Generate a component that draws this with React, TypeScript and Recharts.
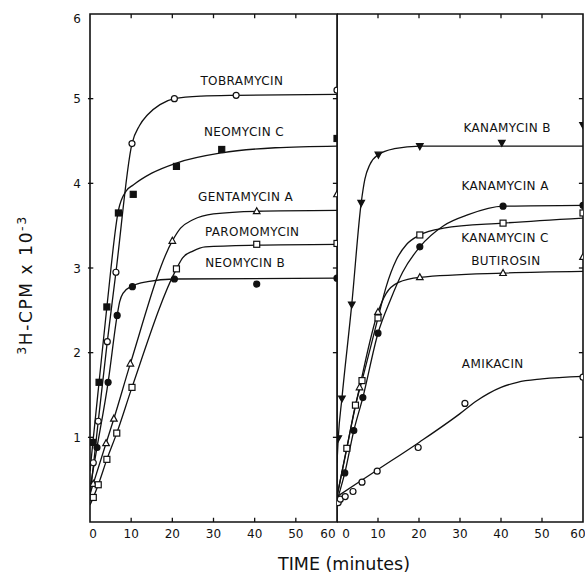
import React from 'react';
import { ComposedChart, Line, XAxis, YAxis, ReferenceDot, ReferenceArea, ReferenceLine } from 'recharts';

type Pt = [number, number];

// ---------- axis ticks ----------
const xTicks = [0, 10, 20, 30, 40, 50, 60];
const yTicks = [0, 1, 2, 3, 4, 5, 6];
const xInnerTicks = [10, 20, 30, 40, 50];
const yInnerTicks = [1, 2, 3, 4, 5];

// ---------- left panel (time in minutes, 3H-CPM x 10^-3) ----------
const tobramycinPts: Pt[] = [[0.8, 0.7], [2, 1.19], [4.2, 2.13], [6.3, 2.95], [10.2, 4.47], [20.5, 5.0], [35.5, 5.04], [60, 5.1]];
const tobramycinFit: Pt[] = [[0, 0.3], [2, 1.19], [4.2, 2.13], [6.3, 2.95], [10.2, 4.47], [12, 4.68], [14, 4.81], [17, 4.93], [20.5, 5.0], [27, 5.03], [35.5, 5.04], [60, 5.05]];

const neomycinCPts: Pt[] = [[0.7, 0.94], [2.2, 1.65], [4.1, 2.54], [6.9, 3.65], [10.5, 3.87], [21, 4.2], [32, 4.4], [60, 4.53]];
const neomycinCFit: Pt[] = [[0, 0.6], [0.7, 0.94], [2.2, 1.65], [4.1, 2.54], [6.9, 3.68], [8.8, 3.91], [10.5, 3.98], [15, 4.12], [21, 4.24], [32, 4.36], [45, 4.42], [60, 4.44]];

const gentamycinAPts: Pt[] = [[0.8, 0.45], [3.9, 0.93], [5.8, 1.22], [9.8, 1.87], [20, 3.32], [40.5, 3.67], [60, 3.87]];
const gentamycinAFit: Pt[] = [[0, 0.33], [3.9, 0.93], [5.8, 1.22], [9.8, 1.87], [20, 3.32], [22, 3.47], [25, 3.57], [30, 3.64], [40.5, 3.67], [60, 3.68]];

const paromomycinPts: Pt[] = [[0.8, 0.29], [2, 0.44], [4.1, 0.74], [6.5, 1.05], [10.2, 1.59], [21, 2.99], [40.5, 3.28], [60, 3.29]];
const paromomycinFit: Pt[] = [[0, 0.2], [0.8, 0.29], [2, 0.44], [4.1, 0.74], [6.5, 1.05], [10.2, 1.59], [21, 2.99], [22.5, 3.12], [25, 3.2], [28, 3.25], [40.5, 3.27], [60, 3.28]];

const neomycinBPts: Pt[] = [[1.7, 0.88], [4.4, 1.65], [6.6, 2.44], [10.3, 2.78], [20.5, 2.87], [40.5, 2.81], [60, 2.88]];
const neomycinBFit: Pt[] = [[0, 0.4], [1.7, 0.88], [4.4, 1.65], [6.6, 2.44], [7.2, 2.6], [8, 2.7], [10.3, 2.79], [14, 2.84], [20.5, 2.87], [60, 2.88]];

// ---------- right panel ----------
const kanamycinBPts: Pt[] = [[0.3, 0.99], [1.2, 1.46], [3.6, 2.57], [5.9, 3.77], [10.1, 4.34], [20.2, 4.44], [40.2, 4.48], [60, 4.69]];
const kanamycinBFit: Pt[] = [[0, 0.7], [0.3, 0.99], [1.2, 1.46], [3.6, 2.57], [5.9, 3.77], [6.8, 4.05], [8, 4.22], [10.1, 4.34], [14, 4.41], [20.2, 4.44], [60, 4.44]];

const kanamycinAPts: Pt[] = [[1.9, 0.58], [4.1, 1.08], [6.3, 1.47], [10, 2.23], [20.2, 3.25], [40.5, 3.73], [60, 3.74]];
const kanamycinAFit: Pt[] = [[0, 0.25], [1.9, 0.58], [4.1, 1.08], [6.3, 1.47], [10, 2.23], [13, 2.62], [16, 2.95], [20.2, 3.25], [26, 3.5], [32, 3.63], [40.5, 3.73], [60, 3.74]];

const kanamycinCPts: Pt[] = [[2.4, 0.87], [4.5, 1.38], [6.1, 1.67], [10, 2.41], [20.2, 3.39], [40.5, 3.53], [60, 3.65]];
const kanamycinCFit: Pt[] = [[0, 0.3], [2.4, 0.87], [4.5, 1.38], [6.1, 1.67], [10, 2.41], [12, 2.78], [14.5, 3.1], [17, 3.28], [20.2, 3.39], [26, 3.47], [40.5, 3.53], [60, 3.59]];

const butirosinPts: Pt[] = [[5.5, 1.59], [10, 2.48], [20.2, 2.89], [40.5, 2.94], [60, 3.13]];
const butirosinFit: Pt[] = [[0, 0.3], [5.5, 1.59], [10, 2.48], [12, 2.7], [15, 2.83], [20.2, 2.89], [40.5, 2.94], [60, 2.96]];

const amikacinPts: Pt[] = [[0.3, 0.23], [0.8, 0.27], [2, 0.3], [3.9, 0.36], [6.1, 0.47], [9.8, 0.6], [19.8, 0.88], [31.2, 1.4], [60, 1.71]];
const amikacinFit: Pt[] = [[0, 0.3], [10, 0.62], [20, 0.94], [30, 1.28], [34, 1.43], [37, 1.52], [40, 1.59], [44, 1.65], [50, 1.69], [60, 1.72]];

// ---------- series definitions ----------
type Shape = 'circle' | 'square' | 'triUp' | 'triDown';
interface Series {
  name: string;
  pts: Pt[];
  fit: Pt[];
  shape: Shape;
  filled: boolean;
  label: Pt; // label anchor in data units
}

const leftSeries: Series[] = [
  { name: 'TOBRAMYCIN', pts: tobramycinPts, fit: tobramycinFit, shape: 'circle', filled: false, label: [36.9, 5.22] },
  { name: 'NEOMYCIN C', pts: neomycinCPts, fit: neomycinCFit, shape: 'square', filled: true, label: [37.4, 4.61] },
  { name: 'GENTAMYCIN A', pts: gentamycinAPts, fit: gentamycinAFit, shape: 'triUp', filled: false, label: [37.8, 3.85] },
  { name: 'PAROMOMYCIN', pts: paromomycinPts, fit: paromomycinFit, shape: 'square', filled: false, label: [39.4, 3.43] },
  { name: 'NEOMYCIN B', pts: neomycinBPts, fit: neomycinBFit, shape: 'circle', filled: true, label: [37.7, 3.06] },
];

const rightSeries: Series[] = [
  { name: 'KANAMYCIN B', pts: kanamycinBPts, fit: kanamycinBFit, shape: 'triDown', filled: true, label: [41.5, 4.66] },
  { name: 'KANAMYCIN A', pts: kanamycinAPts, fit: kanamycinAFit, shape: 'circle', filled: true, label: [41, 3.97] },
  { name: 'KANAMYCIN C', pts: kanamycinCPts, fit: kanamycinCFit, shape: 'square', filled: false, label: [41, 3.36] },
  { name: 'BUTIROSIN', pts: butirosinPts, fit: butirosinFit, shape: 'triUp', filled: false, label: [41.2, 3.09] },
  { name: 'AMIKACIN', pts: amikacinPts, fit: amikacinFit, shape: 'circle', filled: false, label: [38, 1.87] },
];

const toRows = (a: Pt[]) => a.map(([x, y]) => ({ x, y }));

const INK = '#111';
const FONT = "'DejaVu Sans', 'Liberation Sans', sans-serif";
const TICK_LEN_X = 1; // minutes (~4px)
const TICK_LEN_Y = 0.05; // units (~4px)

function makeMarker(shape: Shape, filled: boolean) {
  return (props: any) => {
    const { cx, cy, index } = props;
    if (cx == null || cy == null) return <g key={`m${index}`} />;
    const common = { fill: filled ? INK : '#fff', stroke: INK, strokeWidth: 1.2 };
    if (shape === 'circle') return <circle key={`m${index}`} cx={cx} cy={cy} r={3} {...common} />;
    if (shape === 'square') return <rect key={`m${index}`} x={cx - 3} y={cy - 3} width={6} height={6} {...common} />;
    if (shape === 'triUp')
      return <polygon key={`m${index}`} points={`${cx},${cy - 3.6} ${cx + 3.3},${cy + 2.4} ${cx - 3.3},${cy + 2.4}`} {...common} />;
    return <polygon key={`m${index}`} points={`${cx},${cy + 3.6} ${cx + 3.3},${cy - 2.4} ${cx - 3.3},${cy - 2.4}`} {...common} />;
  };
}

const SeriesLabel = (props: any) => {
  const vb = props.viewBox || {};
  const cx = (vb.x || 0) + (vb.width || 0) / 2;
  const cy = (vb.y || 0) + (vb.height || 0) / 2;
  return (
    <text x={cx} y={cy} dy={4.5} textAnchor="middle" fontSize={12} letterSpacing={0.4} fill={INK} fontFamily={FONT}>
      {props.text}
    </text>
  );
};

const makeBottomTick = (panel: 'L' | 'R') => (props: any) => {
  const { x, y, payload } = props;
  const v = payload.value;
  let dx = 0;
  if (v === 0) dx = panel === 'L' ? 3 : 9;
  if (v === 60) dx = panel === 'L' ? -9 : -5;
  return (
    <text x={x + dx} y={y + 16} textAnchor="middle" fontSize={12} fill={INK} fontFamily={FONT}>
      {v}
    </text>
  );
};

const leftTick = (props: any) => {
  const { x, y, payload } = props;
  const v = payload.value;
  if (v === 0) return <g />;
  return (
    <text x={x - 13} y={y + (v === 6 ? 8.5 : 4.5)} textAnchor="middle" fontSize={12} fill={INK} fontFamily={FONT}>
      {v}
    </text>
  );
};

const tickStroke = { stroke: INK, strokeWidth: 1.3 };

function Panel({ series, side, left, width }: { series: Series[]; side: 'L' | 'R'; left: number; width: number }) {
  return (
    <div style={{ position: 'absolute', left, top: 0 }}>
      <ComposedChart width={width} height={574} margin={{ top: 14, right: side === 'L' ? 3 : 2, bottom: 22, left: 0 }}>
        <XAxis
          dataKey="x"
          type="number"
          domain={[0, 60]}
          ticks={xTicks}
          interval={0}
          height={30}
          tickSize={0}
          tickMargin={0}
          tickLine={false}
          axisLine={false}
          tick={makeBottomTick(side)}
          allowDataOverflow
        />
        <YAxis
          type="number"
          domain={[0, 6]}
          ticks={yTicks}
          interval={0}
          width={side === 'L' ? 90 : 0}
          tickSize={0}
          tickMargin={0}
          tickLine={false}
          axisLine={false}
          tick={side === 'L' ? leftTick : false}
          allowDataOverflow
        />
        {/* frame */}
        <ReferenceArea x1={0} x2={60} y1={0} y2={6} fill="none" fillOpacity={0} stroke={INK} strokeWidth={1.6} ifOverflow="visible" />
        {/* inward ticks: bottom & top */}
        {xInnerTicks.map((t) => (
          <ReferenceLine key={`bt${t}`} segment={[{ x: t, y: 0 }, { x: t, y: TICK_LEN_Y }]} {...tickStroke} ifOverflow="visible" />
        ))}
        {xInnerTicks.map((t) => (
          <ReferenceLine key={`tt${t}`} segment={[{ x: t, y: 6 }, { x: t, y: 6 - TICK_LEN_Y }]} {...tickStroke} ifOverflow="visible" />
        ))}
        {/* left ticks (left panel only) & right ticks */}
        {side === 'L' &&
          yInnerTicks.map((t) => (
            <ReferenceLine key={`lt${t}`} segment={[{ x: -0.5, y: t }, { x: TICK_LEN_X * 0.8, y: t }]} {...tickStroke} ifOverflow="visible" />
          ))}
        {yInnerTicks.map((t) => (
          <ReferenceLine key={`rt${t}`} segment={[{ x: 60, y: t }, { x: 60 - TICK_LEN_X, y: t }]} {...tickStroke} ifOverflow="visible" />
        ))}
        {series.map((s) => (
          <Line
            key={`fit-${s.name}`}
            data={toRows(s.fit)}
            dataKey="y"
            type="monotone"
            stroke={INK}
            strokeWidth={1.3}
            dot={false}
            activeDot={false}
            isAnimationActive={false}
          />
        ))}
        {series.map((s) => (
          <Line
            key={`pts-${s.name}`}
            data={toRows(s.pts)}
            dataKey="y"
            stroke="none"
            strokeWidth={0}
            dot={makeMarker(s.shape, s.filled)}
            activeDot={false}
            isAnimationActive={false}
          />
        ))}
        {series.map((s) => (
          <ReferenceDot
            key={`lab-${s.name}`}
            x={s.label[0]}
            y={s.label[1]}
            r={0}
            fill="none"
            stroke="none"
            label={<SeriesLabel text={s.name} />}
          />
        ))}
      </ComposedChart>
    </div>
  );
}

export default function App() {
  return (
    <div style={{ position: 'absolute', left: 0, top: 0, width: 585, height: 574, background: '#fff', overflow: 'hidden' }}>
      <Panel series={leftSeries} side="L" left={0} width={340} />
      <Panel series={rightSeries} side="R" left={337} width={248} />
      <svg width={585} height={574} style={{ position: 'absolute', left: 0, top: 0, pointerEvents: 'none' }}>
        <text
          transform="translate(32,285) rotate(-90)"
          textAnchor="middle"
          fontSize={17}
          fill={INK}
          fontFamily={FONT}
          letterSpacing={1.6}
        >
          <tspan fontSize={12.5} dy={-6}>3</tspan>
          <tspan dy={6}>H-CPM x 10</tspan>
          <tspan fontSize={12.5} dy={-6}>-3</tspan>
        </text>
        <text x={344} y={570} textAnchor="middle" fontSize={17.5} fill={INK} fontFamily={FONT}>
          TIME (minutes)
        </text>
      </svg>
    </div>
  );
}
